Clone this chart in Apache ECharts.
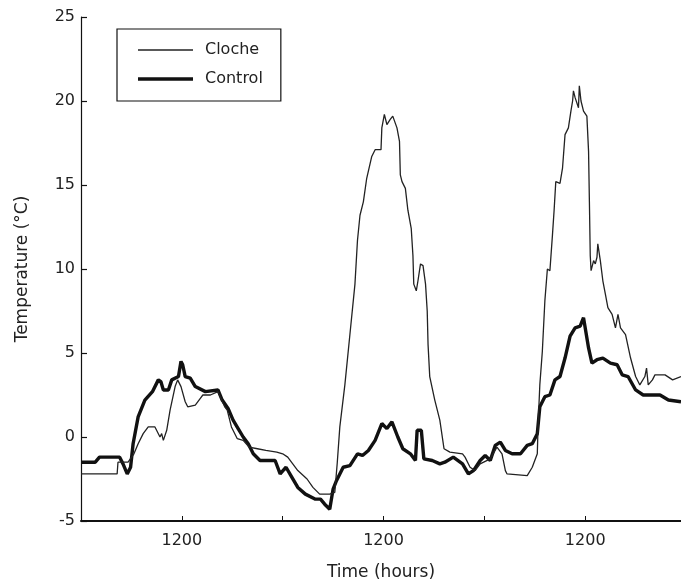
<!DOCTYPE html>
<html>
<head>
<meta charset="utf-8">
<script src="https://cdn.jsdelivr.net/npm/echarts@6/dist/echarts.min.js"></script>
<style>html,body{margin:0;padding:0;background:#fff;}#c{width:681px;height:586px;}</style>
</head>
<body>
<div id="c"></div>
<script>
// Time in hours from start of record, temperature in °C
var clocheHours = [0,4.3,4.4,5.6,6.3,6.8,7.4,8.0,8.8,9.0,9.4,9.6,9.8,10.2,10.6,11.2,11.5,11.9,12.4,12.7,13.6,14.2,14.5,15.4,16.3,17.1,17.4,17.9,18.6,19.3,20.0,21.0,22.0,23.3,24.0,24.6,25.2,25.8,26.9,27.6,28.4,29.6,30.2,30.5,30.8,31.4,32.0,32.6,32.9,33.2,33.6,34.0,34.6,35.0,35.7,35.8,36.1,36.4,36.8,37.1,37.6,37.9,38.0,38.2,38.6,38.9,39.3,39.5,39.6,39.9,40.1,40.4,40.7,41.0,41.2,41.3,41.5,42.1,42.7,43.2,43.9,45.4,45.7,46.3,46.9,47.5,48.7,49.5,50.1,50.5,50.7,53.1,53.7,54.3,54.4,54.6,54.9,55.2,55.5,55.8,56.1,56.3,56.5,57.0,57.3,57.6,58.0,58.3,58.5,58.6,58.8,59.0,59.2,59.3,59.5,59.8,60.2,60.4,60.5,60.6,60.7,61.0,61.2,61.4,61.5,61.8,62.1,62.4,62.7,63.2,63.6,63.9,64.2,64.8,65.4,66.0,66.5,67.1,67.3,67.5,68.0,68.3,69.5,70.4,71.4];
var clocheTemp = [-2.2,-2.2,-1.5,-1.5,-1.0,-0.4,0.2,0.6,0.6,0.5,0.0,0.2,-0.2,0.4,1.6,3.0,3.4,3.0,2.1,1.8,1.9,2.3,2.5,2.5,2.7,1.8,1.6,0.6,-0.1,-0.2,-0.6,-0.7,-0.8,-0.9,-1.0,-1.2,-1.6,-2.0,-2.5,-3.0,-3.4,-3.4,-3.3,-1.5,0.6,3.1,6.1,9.1,11.7,13.2,14.0,15.4,16.7,17.1,17.1,18.4,19.2,18.6,18.9,19.1,18.4,17.6,15.6,15.2,14.8,13.5,12.4,10.8,9.1,8.7,9.3,10.3,10.2,9.1,7.5,5.5,3.6,2.2,1.0,-0.7,-0.9,-1.0,-1.2,-1.8,-2.0,-1.6,-1.3,-0.6,-1.0,-2.0,-2.2,-2.3,-1.8,-1.0,0.8,3.1,5.1,8.1,10.0,9.9,12.0,13.5,15.2,15.1,16.0,18.0,18.4,19.4,20.0,20.6,20.2,20.3,19.6,20.9,20.0,19.4,19.1,17.0,14.0,10.8,9.9,10.5,10.3,10.7,11.5,10.5,9.3,8.5,7.7,7.3,6.5,7.3,6.5,6.1,4.7,3.6,3.1,3.6,4.1,3.1,3.4,3.7,3.7,3.4,3.6];

var controlHours = [0,1.7,2.2,4.6,5.0,5.5,5.9,6.2,6.8,7.6,8.5,9.2,9.5,9.8,10.4,10.8,11.6,11.9,12.1,12.4,13.0,13.6,14.8,16.3,16.8,17.5,18.1,18.7,19.3,19.9,20.5,21.3,23.1,23.7,24.4,25.1,25.8,26.7,27.9,28.5,29.0,29.6,30.0,30.4,31.2,32.0,32.9,33.5,34.2,35.0,35.8,36.4,37.0,37.7,38.3,39.2,39.8,40.0,40.5,40.8,41.8,42.7,43.3,44.3,45.4,46.1,46.7,47.5,48.1,48.7,49.3,49.9,50.5,51.3,52.3,53.1,53.7,54.3,54.6,55.2,55.8,56.4,57.0,57.6,58.2,58.8,59.4,59.8,60.0,60.4,60.8,61.4,62.1,63.0,63.8,64.4,65.1,66.0,66.9,68.9,69.9,71.4];
var controlTemp = [-1.5,-1.5,-1.2,-1.2,-1.6,-2.2,-1.8,-0.4,1.2,2.2,2.7,3.4,3.3,2.8,2.8,3.4,3.6,4.5,4.3,3.6,3.5,3.0,2.7,2.8,2.2,1.7,1.0,0.5,0.0,-0.4,-1.0,-1.4,-1.4,-2.2,-1.8,-2.4,-3.0,-3.4,-3.7,-3.7,-4.0,-4.3,-3.1,-2.6,-1.8,-1.7,-1.0,-1.1,-0.8,-0.2,0.8,0.5,0.9,0.0,-0.7,-1.0,-1.4,0.4,0.4,-1.3,-1.4,-1.6,-1.5,-1.2,-1.6,-2.2,-2.0,-1.4,-1.1,-1.4,-0.5,-0.3,-0.8,-1.0,-1.0,-0.5,-0.4,0.2,1.8,2.4,2.5,3.4,3.6,4.7,6.0,6.5,6.6,7.1,7.1,5.3,4.4,4.6,4.7,4.4,4.3,3.7,3.6,2.8,2.5,2.5,2.2,2.1];

var xLabelHours = [12, 36, 60];
var xLabelTexts = ['1200', '1200', '1200'];
var yTicks = [-5, 0, 5, 10, 15, 20, 25];

function pairs(h, v) { return h.map(function (x, i) { return [x, v[i]]; }); }

var FONT = 'DejaVu Sans';
var chart = echarts.init(document.getElementById('c'), null, { renderer: 'canvas' });
chart.setOption({
  animation: false,
  backgroundColor: '#fff',
  grid: { left: 81, right: 0, top: 17, bottom: 61, containLabel: false },
  legend: {
    data: [
      { name: 'Cloche', icon: 'path://M0,0H55V1.3H0Z' },
      { name: 'Control', icon: 'path://M0,0H55V3.4H0Z' }
    ],
    orient: 'vertical',
    left: 117, top: 29,
    padding: [13, 18, 14, 21],
    itemWidth: 55, itemHeight: 14, itemGap: 13,
    symbolKeepAspect: true,
    borderColor: '#111', borderWidth: 1.2,
    textStyle: { fontFamily: FONT, fontSize: 16, color: '#222', padding: [0, 0, 0, 7] }
  },
  xAxis: {
    type: 'value', min: 0, max: 71.4, interval: 12,
    name: 'Time (hours)', nameLocation: 'middle', nameGap: 43,
    nameTextStyle: { fontFamily: FONT, fontSize: 17, color: '#222' },
    axisLine: { show: true, onZero: false, lineStyle: { color: '#111', width: 2 } },
    axisTick: { show: true, inside: true, length: 5, lineStyle: { color: '#111', width: 1 } },
    splitLine: { show: false },
    axisLabel: {
      fontFamily: FONT, fontSize: 16, color: '#222', margin: 12, showMaxLabel: false,
      formatter: function (v) { var i = xLabelHours.indexOf(v); return i >= 0 ? xLabelTexts[i] : ''; }
    }
  },
  yAxis: {
    type: 'value', min: yTicks[0], max: yTicks[yTicks.length - 1], interval: 5,
    name: 'Temperature (°C)', nameLocation: 'middle', nameGap: 50,
    nameTextStyle: { fontFamily: FONT, fontSize: 17, color: '#222' },
    axisLine: { show: true, onZero: false, lineStyle: { color: '#111', width: 1.2 } },
    axisTick: { show: true, inside: true, length: 6, lineStyle: { color: '#111', width: 1.2 } },
    splitLine: { show: false },
    axisLabel: { fontFamily: FONT, fontSize: 16, color: '#222', margin: 6 }
  },
  series: [
    {
      name: 'Control', type: 'line', data: pairs(controlHours, controlTemp),
      showSymbol: false, symbol: 'none', z: 2,
      lineStyle: { color: '#111', width: 3.4 }, itemStyle: { color: '#111' }
    },
    {
      name: 'Cloche', type: 'line', data: pairs(clocheHours, clocheTemp),
      showSymbol: false, symbol: 'none', z: 3,
      lineStyle: { color: '#222', width: 1.3 }, itemStyle: { color: '#222' }
    }
  ]
});
</script>
</body>
</html>
